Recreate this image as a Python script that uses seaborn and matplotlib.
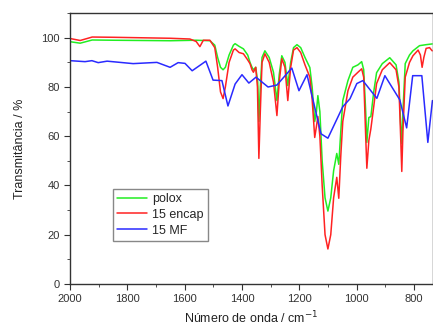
import pandas as pd
import matplotlib
matplotlib.use("Agg")
import matplotlib.pyplot as plt
from matplotlib.ticker import MultipleLocator
import seaborn as sns

# === Data ===
polox_wn = [2000, 1965, 1923, 1850, 1750, 1650, 1560, 1512, 1495, 1485, 1475, 1466,
            1458, 1445, 1430, 1424, 1410, 1395, 1380, 1372, 1365, 1360, 1352, 1345,
            1341, 1336, 1330, 1320, 1305, 1290, 1278, 1270, 1261, 1250, 1240, 1230,
            1220, 1208, 1195, 1180, 1163, 1155, 1146, 1140, 1135, 1128, 1120, 1110,
            1100, 1090, 1080, 1069, 1062, 1055, 1048, 1030, 1013, 995, 982, 975,
            968, 964, 957, 950, 940, 930, 910, 884, 862, 852, 846, 842, 838, 830,
            815, 803, 780, 757, 736]
polox_t = [98.4, 97.8, 99.1, 99.0, 98.9, 98.8, 99.0, 98.8, 97, 92, 88, 87,
           88, 93, 97, 97.6, 96.5, 95.5, 93, 90, 88, 87, 88, 82,
           66, 80, 92, 94.7, 92, 86, 74.5, 85, 92.7, 90, 80.6, 90,
           96, 97.2, 96, 92, 87.9, 80, 66, 70, 76.5, 70, 50, 35,
           29.6, 35, 46, 53, 48.6, 62, 74.5, 82.6, 88, 89, 90.3, 87,
           70, 57.5, 67.6, 68, 78, 85.8, 89.5, 91.9, 89, 82, 65, 57, 70, 89.5,
           93, 94.7, 96.8, 97.2, 97.5]

encap_wn = [2000, 1965, 1923, 1850, 1750, 1650, 1582, 1560, 1547, 1535, 1512, 1495,
            1485, 1475, 1466, 1458, 1445, 1430, 1424, 1410, 1395, 1380, 1372, 1365,
            1360, 1352, 1346, 1341, 1336, 1330, 1320, 1305, 1290, 1278, 1270, 1261,
            1250, 1240, 1230, 1220, 1208, 1195, 1180, 1163, 1155, 1146, 1140, 1135,
            1128, 1120, 1110, 1100, 1090, 1080, 1069, 1062, 1055, 1048, 1030, 1013,
            995, 982, 975, 968, 964, 957, 950, 940, 930, 910, 884, 862, 852, 846,
            842, 838, 830, 815, 803, 785, 777, 771, 765, 757, 745, 736]
encap_t = [99.7, 98.9, 100.3, 100.2, 100.0, 99.8, 99.5, 98.5, 96.4, 99, 99, 96,
           88, 78, 75.3, 80, 90, 95, 95.5, 94, 93.5, 91, 89.5, 87,
           86, 88, 80, 51, 70, 90, 93.5, 90, 82, 68.4, 82, 91.5,
           88, 74.5, 88, 95, 96, 94, 89, 84, 75, 59.5, 64, 68,
           60, 40, 20, 14.2, 20, 35, 43.3, 34.8, 52, 66, 78.5, 84,
           86, 87.4, 84, 60, 47, 58.3, 63, 72, 81.4, 87, 89.9, 87, 80, 60,
           45.7, 62, 84, 90, 92.7, 95, 93, 88, 92, 95.7, 96, 94.7]

mf_wn = [2000, 1948, 1924, 1902, 1871, 1780, 1697, 1651, 1623, 1599, 1574, 1526,
         1501, 1470, 1449, 1424, 1400, 1376, 1351, 1309, 1278, 1226, 1201, 1173,
         1124, 1100, 1048, 1023, 999, 978, 929, 901, 849, 825, 804, 772, 751, 735]
mf_t = [90.7, 90.3, 90.7, 89.9, 90.5, 89.5, 90.0, 88.0, 89.9, 89.6, 86.6, 90.5,
        82.8, 82.6, 72.3, 81.2, 85.0, 81.6, 84.0, 80.0, 80.8, 87.7, 78.5, 85.0,
        61.0, 59.2, 72.0, 75.2, 81.4, 82.6, 75.4, 84.6, 74.8, 63.4, 84.6, 84.6, 57.5, 74.5]

labels = ["polox", "15 encap", "15 MF"]
colors = ["#22ee22", "#ff2222", "#2a2aff"]


def main():
    df = pd.concat([
        pd.DataFrame({"wn": polox_wn, "T": polox_t, "amostra": labels[0]}),
        pd.DataFrame({"wn": encap_wn, "T": encap_t, "amostra": labels[1]}),
        pd.DataFrame({"wn": mf_wn, "T": mf_t, "amostra": labels[2]}),
    ], ignore_index=True)

    sns.set_style("ticks")
    plt.rcParams["font.family"] = ["Liberation Sans", "DejaVu Sans"]

    fig = plt.figure(figsize=(4.33, 3.29), dpi=100)
    ax = fig.add_axes([0.162, 0.137, 0.838, 0.823])

    sns.lineplot(data=df, x="wn", y="T", hue="amostra", hue_order=labels,
                 palette=dict(zip(labels, colors)), sort=False, estimator=None,
                 linewidth=1.1, ax=ax)

    ax.set_xlim(2000, 733)
    ax.set_ylim(0, 110)
    ax.xaxis.set_major_locator(MultipleLocator(200))
    ax.xaxis.set_minor_locator(MultipleLocator(100))
    ax.yaxis.set_major_locator(MultipleLocator(20))
    ax.yaxis.set_minor_locator(MultipleLocator(10))
    ax.tick_params(which="both", direction="out", colors="#333333", labelsize=8)
    ax.tick_params(which="major", length=4)
    ax.tick_params(which="minor", length=2.5)
    for s in ax.spines.values():
        s.set_color("#333333")
        s.set_linewidth(1.0)

    ax.set_xlabel("Número de onda / cm$^{-1}$", fontsize=9, color="#222222", labelpad=4)
    ax.set_ylabel("Transmitância / %", fontsize=9, color="#222222", labelpad=11)

    ax.legend(loc="lower left", bbox_to_anchor=(0.118, 0.159), fontsize=9,
              frameon=True, fancybox=False, edgecolor="#888888", framealpha=1,
              handlelength=2.4, handletextpad=0.4, borderpad=0.35,
              labelspacing=0.3, borderaxespad=0)

    fig.savefig("out.png", dpi=100)


if __name__ == "__main__":
    main()
